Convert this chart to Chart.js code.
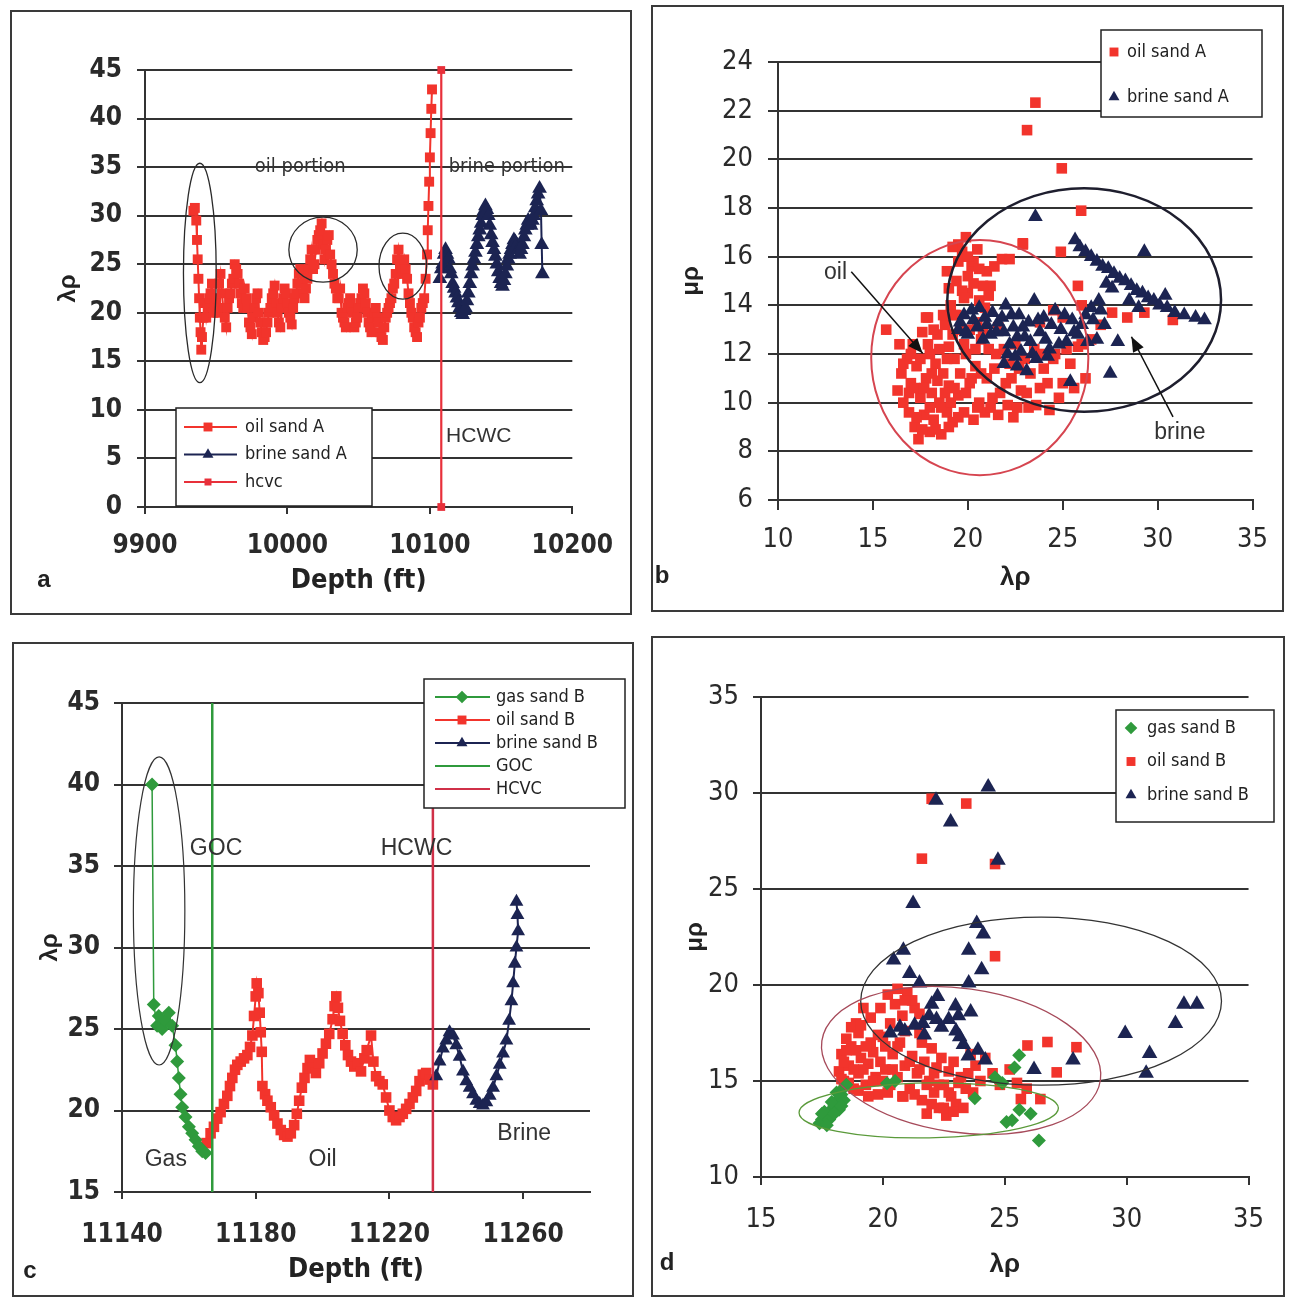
<!DOCTYPE html>
<html>
<head>
<meta charset="utf-8">
<script src="https://cdn.jsdelivr.net/npm/chart.js@4.4.1/dist/chart.umd.min.js"></script>
<style>
  body { margin: 0; background: #fff; width: 1291px; height: 1299px; position: relative; overflow: hidden; }
  .panel { position: absolute; border: 2px solid #3a3a3a; background: #fff; }
  .panel canvas { display: block; }
</style>
</head>
<body>
<div class="panel" style="left:10px;top:10px"><canvas id="ca" width="618" height="601" style="width:618px;height:601px"></canvas></div>
<div class="panel" style="left:651px;top:5px"><canvas id="cb" width="629" height="603" style="width:629px;height:603px"></canvas></div>
<div class="panel" style="left:12px;top:642px"><canvas id="cc" width="618" height="651" style="width:618px;height:651px"></canvas></div>
<div class="panel" style="left:651px;top:636px"><canvas id="cd" width="630" height="657" style="width:630px;height:657px"></canvas></div>
<script>
// ---------------- data ----------------
// panel a : depth (ft) vs lambda-rho, sand A
const oilSandA = [
  [9934,30.5],[9935,30.8],[9936,29.5],[9936.5,27.5],[9937,25.5],[9937.5,23.5],[9938,21.5],[9938.5,19.5],[9939,18],[9939.5,16.2],[9940,17.5],[9941,19.5],
  [9942,21],[9943,19.5],[9944,20.5],[9945,21.5],[9946,22],[9947,23],[9948,20],[9949,21],[9950,21.5],[9951,20],[9952,23],[9953,24],[9954,22],[9955,20.5],
  [9956,19.5],[9957,18.5],[9958,20.5],[9959,21.5],[9960,22],[9961,23],[9962,23.5],[9963,25],[9964,24.5],[9965,24],[9966,23],[9967,22],[9968,21],[9969,20.5],
  [9970,22.5],[9971,21.5],[9972,20.5],[9973,19],[9974,18.5],[9975,17.8],[9976,19.5],[9977,20.5],[9978,21.5],[9979,22],[9980,20],[9981,19],[9982,18],
  [9983,17.2],[9984,17.5],[9985,18],[9986,19],[9987,20],[9988,20.5],[9989,21.5],[9990,22],[9991,22.8],[9992,21],[9993,20],[9994,19],[9995,18.5],[9996,20.5],
  [9997,21.5],[9998,22.5],[9999,22],[10000,21],[10001,20],[10002,19.5],[10003,18.8],[10004,20.5],[10005,21.5],[10006,22],[10007,23],[10008,24],[10009,24.5],
  [10010,23],[10011,22],[10012,21.5],[10013,22.5],[10014,23.5],[10015,24.5],[10016,25.5],[10017,26.5],[10018,24.5],[10019,25],[10020,26.5],[10021,27.5],
  [10022,28],[10023,28.5],[10024,29.2],[10025,27],[10026,25.5],[10027,26.5],[10028,27.5],[10029,28],[10030,26],[10031,25],[10032,24],[10033,23],[10034,22.5],
  [10035,21.5],[10036,21.5],[10037,22.5],[10038,20],[10039,19.5],[10040,19],[10041,18.5],[10042,20.5],[10043,21],[10044,21.5],[10045,20.5],[10046,20],
  [10047,18.5],[10048,19],[10049,19.5],[10050,20.5],[10051,21],[10052,21.5],[10053,22.5],[10054,22],[10055,21],[10056,20],[10057,19],[10058,18.5],[10059,18],
  [10060,19.5],[10061,20],[10062,20.5],[10063,19.5],[10064,19],[10065,18],[10066,17.5],[10067,17.2],[10068,18.5],[10069,19.5],[10070,20],[10071,20.5],
  [10072,21],[10073,21.5],[10074,22.5],[10075,23],[10076,24],[10077,25.5],[10078,26.5],[10079,25],[10080,24],[10081,24.5],[10082,25.5],[10083,24.5],
  [10084,23.5],[10085,22],[10086,21],[10087,20],[10088,19.5],[10089,18.5],[10090,18],[10091,17.5],[10092,19],[10093,19.5],[10094,20.5],[10095,21],
  [10096,21.5],[10097,23.5],[10098,26],[10098.5,28.5],[10099,31],[10099.5,33.5],[10100,36],[10100.5,38.5],[10101,41],[10101.5,43]
];
const brineSandA = [
  [10107,23.5],[10108,24.5],[10109,25],[10110,26],[10111,26.5],[10112,26],[10113,25.5],[10114,24.5],[10115,24],[10116,23],[10117,22.5],[10118,22],
  [10119,21.5],[10120,21],[10121,20.5],[10122,20],[10123,19.8],[10124,20.2],[10125,20.5],[10126,21.2],[10127,22],[10128,23],[10129,24],[10130,24.8],
  [10131,25.5],[10132,26.2],[10133,27],[10134,27.8],[10135,28.5],[10136,29.2],[10137,30],[10138,30.5],[10139,31],[10140,30.6],[10141,30],[10142,29],
  [10143,28],[10144,27.2],[10145,26.5],[10146,25.8],[10147,25],[10148,24.2],[10149,23.5],[10150,23],[10151,22.7],[10152,23.3],[10153,24],[10154,24.8],
  [10155,25.5],[10156,26],[10157,26.5],[10158,27],[10159,27.5],[10160,27.3],[10161,27],[10162,26.5],[10163,26],[10164,26.5],[10165,27],[10166,27.8],
  [10167,28.5],[10168,29],[10169,29.5],[10170,29.3],[10171,29],[10172,29.5],[10173,30],[10174,30.8],[10175,31.5],[10176,32.2],[10177,32.8],[10178,30.5],
  [10178.5,27],[10179,24]
];
const hcvcA = [[10108,0],[10108,45]];
const ticksAX = [9900, 10000, 10100, 10200];
const ticksAY = [0, 5, 10, 15, 20, 25, 30, 35, 40, 45];

// panel b : lambda-rho vs mu-rho, sand A
const oilSandAxplot = [
  [16.3,10.5],[16.5,11.2],[16.6,10.0],[16.8,11.8],[16.9,9.6],[17.0,10.8],[17.1,12.4],[17.2,9.0],[17.3,11.5],[17.4,8.5],[17.5,10.2],[17.6,12.9],[17.7,9.5],
  [17.8,11.0],[17.9,13.5],[18.0,8.8],[18.0,12.0],[18.1,10.4],[18.2,9.3],[18.3,11.6],[18.4,12.8],[18.5,10.0],[18.6,8.7],[18.7,11.2],[18.8,13.2],[18.9,9.6],
  [19.0,12.3],[19.0,10.7],[19.1,14.0],[19.2,9.2],[19.3,11.8],[19.4,15.0],[19.5,10.3],[19.6,13.0],[19.7,16.2],[19.8,9.6],[19.9,12.0],[20.0,14.5],[20.1,10.8],
  [20.2,15.6],[20.3,9.3],[20.4,11.5],[20.5,13.3],[20.6,10.0],[20.7,12.6],[20.9,9.6],[21.0,11.0],[21.2,14.8],[21.3,10.2],[21.5,12.0],[21.6,9.5],[21.8,15.9],
  [22.0,10.8],[22.2,11.6],[22.4,9.4],[22.5,12.4],[22.8,10.5],[23.0,11.8],[23.2,9.8],[23.5,12.2],[23.8,10.6],[24.0,11.4],[24.3,9.7],[24.6,12.0],[25.0,10.8],
  [25.4,11.6],[25.8,12.3],[26.2,11.0],
  [16.6,11.6],[16.9,10.4],[17.0,12.0],[17.2,10.6],[17.3,9.4],[17.5,11.8],[17.6,8.9],[17.7,10.6],[17.9,12.4],[18.0,9.8],[18.1,11.2],[18.2,13.0],[18.3,8.9],
  [18.4,10.9],[18.5,12.2],[18.6,9.8],[18.7,13.6],[18.8,10.4],[18.9,11.8],[19.0,9.0],[19.1,10.0],[19.2,12.8],[19.3,10.6],[19.4,13.6],[19.5,9.4],[19.6,11.2],
  [19.7,14.6],[19.8,12.4],[19.9,10.4],[20.0,15.2],[20.1,13.0],[20.2,11.0],[20.3,15.8],[20.4,12.2],[20.5,9.8],[20.6,14.2],[20.7,11.2],[20.8,13.0],[21.0,15.4],
  [21.1,12.2],[21.2,9.8],[21.4,11.4],[21.6,13.1],[21.7,10.4],[21.9,12.2],[22.1,9.9],[22.3,11.0],[22.6,9.8],[22.7,11.4],[23.1,10.4],[23.3,11.2],[23.6,9.9],
  [23.9,12.0],[24.2,10.8],[24.5,11.8],[24.8,10.2],[25.2,12.2],[25.6,10.6],[26.0,12.4],[19.5,16.5],[19.9,16.8],[20.5,16.3],[21.4,15.6],[20.8,14.8],
  [18.9,15.4],[19.2,16.4],[19.5,15.8],[19.8,14.3],[20.0,16.0],[20.3,14.9],[20.6,15.5],[20.9,13.9],[21.1,14.4],[19.0,14.7],[19.3,13.6],
  [22.2,15.9],[22.9,16.5],[24.9,16.2],[25.8,14.8],[25.0,13.5],[26.0,14.0],[27.6,13.7],[28.4,13.5],[29.3,13.7],[30.8,13.4],[27.0,13.2],[26.5,12.6],[24.5,13.8],
  [23.8,13.3],[23.56,22.33],[23.12,21.2],[24.95,19.63],[25.97,17.89],[22.9,16.55],[15.7,13.0],[16.4,12.4],[17.8,13.5]
];
const brineSandAxplot = [
  [19.5,13.0],[19.8,13.6],[20.0,12.8],[20.3,13.4],[20.6,13.9],[20.8,12.6],[21.0,13.2],[21.3,13.7],[21.5,12.9],[21.8,13.5],[22.0,14.0],[22.2,12.4],[22.4,13.1],
  [22.7,13.6],[23.0,12.7],[23.2,13.3],[23.5,14.2],[23.8,12.9],[24.0,13.5],[24.3,12.2],[24.6,13.8],[24.9,13.0],[25.2,12.5],[25.5,13.4],[25.8,12.8],[26.2,13.6],
  [26.5,13.9],[26.8,12.6],[27.2,13.2],[27.6,14.7],[27.9,12.5],
  [19.6,13.3],[19.9,12.9],[20.2,13.8],[20.5,13.1],[20.9,13.5],[21.2,12.8],[21.6,13.3],[21.9,12.9],[22.3,13.6],[22.6,12.7],[22.9,13.1],[23.3,12.5],[23.7,13.4],
  [24.1,12.6],[24.4,13.2],[24.8,12.4],[25.1,13.6],[25.6,12.9],[26.0,13.2],[26.3,12.5],[22.1,12.0],[22.6,11.5],[23.4,12.0],[24.2,11.9],[26.6,13.4],[27.0,13.8],
  [26.9,14.2],[21.9,11.6],[22.5,11.9],[23.1,11.3],[23.6,11.8],[22.8,12.1],
  [23.56,17.64],[25.4,10.86],[27.5,11.2],[29.3,16.2],
  [25.65,16.68],[25.9,16.4],[26.2,16.2],[26.5,16.0],[26.8,15.8],[27.1,15.6],[27.4,15.5],[27.7,15.3],[28.0,15.1],[28.3,15.0],[28.6,14.8],[28.9,14.6],
  [29.2,14.5],[29.5,14.3],[29.8,14.2],[30.1,14.0],[30.5,13.9],[30.9,13.7],[31.4,13.6],[32.0,13.5],[32.47,13.4],
  [27.3,14.9],[28.5,14.2],[29.0,13.9],[30.4,14.4]
];
const ticksBX = [10, 15, 20, 25, 30, 35];
const ticksBY = [6, 8, 10, 12, 14, 16, 18, 20, 22, 24];

// panel c : depth (ft) vs lambda-rho, sand B
const gasSandB = [
  [11149,40],[11149.5,26.5],[11150.5,25.2],[11151,25.8],[11152,25],[11153,25.5],[11154,26],[11155,25.2],[11156,24],[11156.5,23],[11157,22],[11157.5,21],
  [11158,20.2],[11159,19.6],[11160,19],[11161,18.6],[11162,18.2],[11163,17.8],[11164,17.5],[11165,17.4]
];
const oilSandB = [
  [11165.3,18.0],[11166.5,18.6],[11167.5,19.0],[11168.5,19.5],[11169.5,19.9],[11170.5,20.4],[11171.5,20.9],[11172.3,21.5],[11173,22.0],[11173.8,22.5],
  [11174.5,22.8],[11175.5,23.0],[11176.5,23.2],[11177.5,23.4],[11178.3,23.9],[11179,24.6],[11179.5,25.8],[11180,27.0],[11180.3,27.8],[11180.8,27.2],
  [11181.2,26.0],[11181.5,24.8],[11181.8,23.6],[11182,21.5],[11182.8,21.0],[11183.5,20.6],[11184.5,20.2],[11185.5,19.7],[11186.5,19.2],[11187.5,18.8],
  [11188.5,18.5],[11189.5,18.4],[11190.5,18.6],[11191.5,19.1],[11192.3,19.8],[11193,20.6],[11193.8,21.4],[11194.6,22.0],[11195.5,22.6],[11196.2,23.1],
  [11197,22.6],[11198,22.3],[11199,22.9],[11200,23.5],[11201,24.1],[11202,24.7],[11203,25.6],[11203.6,26.4],[11204.1,27.0],[11204.6,26.3],[11205.2,25.5],
  [11206,24.7],[11206.8,24.0],[11207.6,23.4],[11208.5,23.0],[11209.5,22.7],[11210.5,22.9],[11211.5,22.4],[11212.5,23.2],[11213.2,23.7],[11214.5,24.6],
  [11215.2,23.0],[11216,22.1],[11217,21.8],[11218,21.6],[11219,20.8],[11220,20.0],[11221,19.6],[11222,19.4],[11223,19.6],[11224,19.8],[11225,20.1],
  [11226,20.4],[11227,20.8],[11228,21.2],[11229,21.8],[11230,22.2],[11231,22.3],[11232,21.9],[11233,21.6]
];
const brineSandB = [
  [11234,22.1],[11235,23.0],[11236,23.8],[11237,24.3],[11238,24.8],[11239,24.6],[11240,24.0],[11241,23.3],[11242,22.4],[11243,21.8],[11244,21.4],[11245,21.0],
  [11246,20.6],[11247,20.4],[11248,20.3],[11249,20.5],[11250,20.9],[11251,21.4],[11252,22.1],[11253,22.8],[11254,23.5],[11255,24.3],[11255.8,25.5],
  [11256.5,26.7],[11257,27.8],[11257.5,29.0],[11258,30.0],[11258.5,31.0],[11258.3,32.0],[11258,32.8]
];
const gocB = [[11167,15],[11167,45]];
const hcvcB = [[11233,15],[11233,45]];
const ticksCX = [11140, 11180, 11220, 11260];
const ticksCY = [15, 20, 25, 30, 35, 40, 45];

// panel d : lambda-rho vs mu-rho, sand B
const gasSandBxplot = [
  [17.4,12.8],[17.5,13.0],[17.6,12.9],[17.7,13.2],[17.8,13.4],[17.9,13.3],[18.0,13.7],[18.1,13.9],[18.2,14.1],[18.3,14.3],[18.35,14.6],[18.5,14.8],
  [17.6,13.4],[17.9,13.9],[18.2,13.5],[17.5,13.3],[17.8,13.0],[18.0,13.3],[18.1,14.4],[18.4,14.0],[18.3,13.7],[17.7,12.7],
  [20.17,14.88],[20.5,15.0],[24.6,15.2],[23.77,14.1],[25.59,16.34],[25.07,12.86],[25.6,13.5],[26.06,13.3],[26.4,11.9],[25.4,15.7],[24.9,14.9],[25.3,12.95]
];
const oilSandBxplot = [
  [22.0,29.7],[23.42,29.45],[21.6,26.58],[24.6,26.3],[24.6,21.5],[26.75,17.03],[25.93,16.85],[27.94,16.76],[27.13,15.45],[26.46,14.06],[25.66,14.06],[20.84,14.2],
  [18.2,15.5],[18.3,16.4],[18.4,15.0],[18.5,17.2],[18.6,15.8],[18.7,16.8],[18.8,14.6],[18.9,18.0],[19.0,15.4],[19.0,17.5],[19.1,16.2],[19.2,18.8],[19.3,14.8],
  [19.4,15.9],[19.5,17.0],[19.6,16.5],[19.7,15.2],[19.8,14.3],[19.9,16.0],[20.0,17.3],[20.1,15.6],[20.2,19.5],[20.3,14.8],[20.4,16.4],[20.5,19.0],[20.6,15.2],
  [20.7,17.0],[20.8,18.4],[20.9,15.8],[21.0,19.6],[21.1,14.6],[21.2,16.3],[21.3,18.8],[21.4,15.4],[21.5,17.5],[21.6,14.0],[21.7,16.0],[21.8,13.3],[21.9,15.0],
  [22.0,16.7],[22.1,14.4],[22.2,15.7],[22.3,13.6],[22.4,16.2],[22.5,14.8],[22.6,13.2],[22.7,15.5],[22.8,14.2],[22.9,16.0],[23.0,13.8],[23.2,15.2],[23.4,14.6],
  [23.6,16.4],[23.8,15.8],[24.0,15.0],[24.2,16.2],[24.5,15.4],[24.8,14.8],[25.2,15.6],[25.5,14.9],[25.9,14.6],
  [18.3,15.1],[18.4,16.0],[18.5,16.6],[18.6,14.9],[18.7,17.8],[18.8,15.6],[18.9,16.6],[19.0,14.5],[19.1,17.9],[19.2,15.6],[19.3,16.8],[19.4,14.2],[19.5,18.3],
  [19.6,15.0],[19.8,17.4],[19.9,18.8],[20.0,15.0],[20.1,16.8],[20.2,14.4],[20.3,18.0],[20.4,15.6],[20.6,16.8],[20.8,14.2],[20.9,17.6],[21.1,16.0],[21.2,19.2],
  [21.3,14.3],[21.5,15.6],[21.6,17.0],[21.8,14.8],[22.0,13.8],[22.1,15.4],[22.3,14.8],[22.5,13.6],[22.7,14.4],[22.9,13.4],[23.1,14.9],[23.3,13.6],[23.5,15.4],
  [23.7,14.4],[20.6,19.8],[20.9,19.2],[21.5,18.5]
];
const brineSandBxplot = [
  [24.32,30.31],[22.18,29.62],[22.78,28.49],[24.72,26.5],[21.24,24.24],[23.85,23.2],[24.12,22.66],[23.52,21.81],[20.84,21.81],[20.44,21.3],[24.05,20.8],
  [23.52,20.1],[21.1,20.6],[21.5,20.1],[22.24,19.4],[22.98,18.9],[20.7,17.8],[20.3,17.5],[21.64,18.0],[22.2,18.2],[22.7,18.2],[23.1,18.4],[23.15,17.3],
  [23.5,16.3],[26.2,15.6],[27.8,16.1],[29.94,17.47],[30.94,16.43],[30.8,15.4],[32.0,18.0],[32.35,19.0],[32.88,19.0],[24.2,16.1],
  [20.9,17.6],[21.3,17.9],[21.9,18.4],[22.4,17.8],[23.0,17.6],[23.3,16.9],[21.7,17.4],[22.0,19.0],[23.6,18.6],[23.9,16.6]
];
const ticksDX = [15, 20, 25, 30, 35];
const ticksDY = [10, 15, 20, 25, 30, 35];

// ---------------- styling ----------------
const RED = '#f2342c';
const NAVY = '#1c2452';
const GREEN = '#2f9a3c';
const NARROW = '"Liberation Sans Narrow","Arial Narrow","DejaVu Sans Condensed","Liberation Sans",sans-serif';
const SANS = '"Liberation Sans",Arial,sans-serif';

const pts = arr => arr.map(p => ({ x: p[0], y: p[1] }));

function marker(ctx, style, r, x, y) {
  ctx.beginPath();
  if (style === 'rect') {
    const s = r * Math.SQRT1_2;
    ctx.rect(x - s, y - s, 2 * s, 2 * s);
  } else if (style === 'triangle') {
    for (let k = 0; k < 3; k++) {
      const a = k * 2 * Math.PI / 3;
      const px = x + Math.sin(a) * r, py = y - Math.cos(a) * r;
      k ? ctx.lineTo(px, py) : ctx.moveTo(px, py);
    }
    ctx.closePath();
  } else {
    ctx.moveTo(x - r, y); ctx.lineTo(x, y - r); ctx.lineTo(x + r, y); ctx.lineTo(x, y + r); ctx.closePath();
  }
  ctx.fill();
}

function arrow(ctx, x1, y1, x2, y2) {
  ctx.strokeStyle = '#111'; ctx.fillStyle = '#111'; ctx.lineWidth = 1.5;
  ctx.beginPath(); ctx.moveTo(x1, y1); ctx.lineTo(x2, y2); ctx.stroke();
  const a = Math.atan2(y2 - y1, x2 - x1), L = 15, W = 6;
  ctx.beginPath();
  ctx.moveTo(x2, y2);
  ctx.lineTo(x2 - L * Math.cos(a) + W * Math.sin(a), y2 - L * Math.sin(a) - W * Math.cos(a));
  ctx.lineTo(x2 - L * Math.cos(a) - W * Math.sin(a), y2 - L * Math.sin(a) + W * Math.cos(a));
  ctx.closePath(); ctx.fill();
}

// ellipses, arrows, notes, legend box and panel letter
const deco = {
  id: 'deco',
  afterDatasetsDraw(chart, args, o) {
    const ctx = chart.ctx, xs = chart.scales.x, ys = chart.scales.y;
    ctx.save();
    (o.ellipses || []).forEach(e => {
      const cx = xs.getPixelForValue(e.x), cy = ys.getPixelForValue(e.y);
      const rx = Math.abs(xs.getPixelForValue(e.x + e.rx) - cx);
      const ry = Math.abs(ys.getPixelForValue(e.y + e.ry) - cy);
      ctx.beginPath();
      ctx.ellipse(cx, cy, rx, ry, (e.rot || 0) * Math.PI / 180, 0, 2 * Math.PI);
      ctx.strokeStyle = e.color; ctx.lineWidth = e.width;
      ctx.stroke();
    });
    (o.arrows || []).forEach(a => arrow(ctx,
      xs.getPixelForValue(a[0]), ys.getPixelForValue(a[1]), xs.getPixelForValue(a[2]), ys.getPixelForValue(a[3])));
    (o.notes || []).forEach(t => {
      ctx.font = t.font; ctx.fillStyle = '#333';
      ctx.textAlign = t.align || 'center'; ctx.textBaseline = 'middle';
      ctx.fillText(t.text, xs.getPixelForValue(t.x), ys.getPixelForValue(t.y));
    });
    ctx.restore();
  },
  afterDraw(chart, args, o) {
    const ctx = chart.ctx, L = o.legend;
    ctx.save();
    if (L) {
      ctx.fillStyle = '#fff'; ctx.fillRect(L.x, L.y, L.w, L.h);
      ctx.strokeStyle = '#222'; ctx.lineWidth = 1.5; ctx.strokeRect(L.x, L.y, L.w, L.h);
      ctx.font = L.font; ctx.textBaseline = 'middle'; ctx.textAlign = 'left';
      chart.data.datasets.forEach((ds, i) => {
        const y = L.y + L.first + i * L.step;
        if (L.lines) {
          ctx.strokeStyle = ds.borderColor; ctx.lineWidth = 2;
          ctx.beginPath(); ctx.moveTo(L.x + L.lines[0], y); ctx.lineTo(L.x + L.lines[1], y); ctx.stroke();
        }
        if (ds.pointRadius > 0) {
          ctx.fillStyle = ds.backgroundColor;
          marker(ctx, ds.pointStyle, Math.min(ds.pointRadius, 7) * 0.9, L.x + L.mx, y);
        }
        ctx.fillStyle = '#222';
        ctx.fillText(ds.label, L.x + L.tx, y);
      });
    }
    if (o.letter) {
      ctx.font = 'bold 24px ' + SANS; ctx.fillStyle = '#222';
      ctx.textAlign = 'center'; ctx.textBaseline = 'middle';
      ctx.fillText(o.letter[0], o.letter[1], o.letter[2]);
    }
    ctx.restore();
  }
};

function axis(min, max, ticks, box, side, o) {
  return {
    type: 'linear', min, max,
    afterBuildTicks: s => { s.ticks = ticks.map(v => ({ value: v })); },
    afterFit: s => { if (side === 'x') s.height = box.H - box.B; else s.width = box.L; },
    ticks: { color: '#2a2a2a', font: o.tickFont, padding: o.tickPad, autoSkip: false, maxRotation: 0,
      callback: v => String(v) },
    grid: side === 'x'
      ? { drawOnChartArea: false, drawTicks: true, tickLength: o.tl, color: '#333', tickColor: '#333', lineWidth: 2 }
      : { drawOnChartArea: true, drawTicks: true, tickLength: o.tl, color: '#333', tickColor: '#333', lineWidth: 2 },
    border: { color: '#333', width: 2 },
    title: { display: true, text: o.title, color: '#222', font: o.titleFont,
      padding: side === 'x' ? { top: 0, bottom: o.titlePad } : { top: o.titlePad, bottom: 0 } }
  };
}

function build(id, box, datasets, xs, ys, decoOpts) {
  new Chart(document.getElementById(id), {
    type: 'scatter',
    data: { datasets },
    options: {
      responsive: false, animation: false, events: [],
      layout: { padding: { left: 0, top: box.T, right: box.W - box.R, bottom: 0 } },
      scales: { x: xs, y: ys },
      plugins: { legend: { display: false }, tooltip: { enabled: false }, deco: decoOpts }
    },
    plugins: [deco]
  });
}

function series(label, data, color, style, r, line, order) {
  return {
    label, data: pts(data), order,
    backgroundColor: color, borderColor: color,
    pointStyle: style, pointRadius: r, pointBorderWidth: 0,
    showLine: line > 0, borderWidth: line, clip: false
  };
}

const boldTick = { family: NARROW, size: 26, weight: 'bold' };
const plainTick = { family: NARROW, size: 27 };

// ---- a ----
const boxA = { W: 618, H: 601, L: 133, T: 58, R: 573, B: 495 };
build('ca', boxA, [
  series('oil sand A', oilSandA, RED, 'rect', 7, 2, 2),
  series('brine sand A', brineSandA, NAVY, 'triangle', 8.5, 2, 1),
  series('hcvc', hcvcA, '#e8303a', 'rect', 5.5, 2.2, 0)
],
  axis(9900, 10200, ticksAX, boxA, 'x', { tickFont: boldTick, tickPad: 17, tl: 7, title: 'Depth (ft)',
    titleFont: { family: NARROW, size: 27, weight: 'bold' }, titlePad: 16 }),
  axis(0, 45, ticksAY, boxA, 'y', { tickFont: boldTick, tickPad: 15, tl: 8, title: 'λρ',
    titleFont: { family: SANS, size: 24, weight: 'bold' }, titlePad: 42 }),
  {
    ellipses: [
      { x: 9938.5, y: 24.1, rx: 11.5, ry: 11.3, color: '#2a2a2a', width: 1.3 },
      { x: 10025, y: 26.5, rx: 24, ry: 3.35, color: '#2a2a2a', width: 1.3 },
      { x: 10081, y: 24.8, rx: 16.7, ry: 3.4, color: '#2a2a2a', width: 1.3 }
    ],
    notes: [
      { text: 'oil portion', x: 10009, y: 35, font: '20px ' + NARROW },
      { text: 'brine portion', x: 10154, y: 35, font: '20px ' + NARROW },
      { text: 'HCWC', x: 10111.4, y: 7.3, font: '21px ' + SANS, align: 'left' }
    ],
    legend: { x: 164, y: 396, w: 196, h: 98, first: 19, step: 27.5, lines: [8, 61], mx: 32, tx: 69, font: '18px ' + NARROW },
    letter: ['a', 32, 568]
  });

// ---- b ----
const boxB = { W: 629, H: 603, L: 125, T: 55, R: 602, B: 493 };
build('cb', boxB, [
  series('oil sand A', oilSandAxplot, RED, 'rect', 7.5, 0, 2),
  series('brine sand A', brineSandAxplot, NAVY, 'triangle', 8.5, 0, 1)
],
  axis(10, 35, ticksBX, boxB, 'x', { tickFont: plainTick, tickPad: 14, tl: 10, title: 'λρ',
    titleFont: { family: SANS, size: 26, weight: 'bold' }, titlePad: 17 }),
  axis(6, 24, ticksBY, boxB, 'y', { tickFont: plainTick, tickPad: 15, tl: 10, title: 'μρ',
    titleFont: { family: SANS, size: 24, weight: 'bold' }, titlePad: 24 }),
  {
    ellipses: [
      { x: 20.63, y: 11.85, rx: 5.72, ry: 4.83, color: '#d64550', width: 2 },
      { x: 26.13, y: 14.22, rx: 7.21, ry: 4.59, color: '#1e1e2e', width: 2.5 }
    ],
    arrows: [[13.86, 15.38, 17.62, 12.03], [30.81, 9.42, 28.62, 12.71]],
    notes: [
      { text: 'oil', x: 13.03, y: 15.33, font: '23px ' + SANS },
      { text: 'brine', x: 31.17, y: 8.75, font: '23px ' + SANS }
    ],
    legend: { x: 448, y: 23, w: 161, h: 87, first: 22, step: 45, mx: 13, tx: 26, font: '18px ' + NARROW },
    letter: ['b', 9, 569]
  });

// ---- c ----
const boxC = { W: 618, H: 651, L: 108, T: 59, R: 576, B: 548 };
build('cc', boxC, [
  series('gas sand B', gasSandB, GREEN, 'rectRot', 7, 1.5, 3),
  series('oil sand B', oilSandB, RED, 'rect', 7.5, 2, 4),
  series('brine sand B', brineSandB, NAVY, 'triangle', 8, 2, 2),
  series('GOC', gocB, GREEN, 'rect', 0, 2.5, 1),
  series('HCVC', hcvcB, '#d03048', 'rect', 0, 2.5, 0)
],
  axis(11140, 11280, ticksCX, boxC, 'x', { tickFont: boldTick, tickPad: 21, tl: 7, title: 'Depth (ft)',
    titleFont: { family: NARROW, size: 27, weight: 'bold' }, titlePad: 9 }),
  axis(15, 45, ticksCY, boxC, 'y', { tickFont: boldTick, tickPad: 14, tl: 8, title: 'λρ',
    titleFont: { family: SANS, size: 24, weight: 'bold' }, titlePad: 22 }),
  {
    ellipses: [{ x: 11151.1, y: 32.24, rx: 7.7, ry: 9.45, color: '#333', width: 1.2 }],
    notes: [
      { text: 'GOC', x: 11160.3, y: 36.04, font: '23px ' + SANS, align: 'left' },
      { text: 'HCWC', x: 11228.1, y: 36.04, font: '23px ' + SANS },
      { text: 'Gas', x: 11153.1, y: 17.0, font: '23px ' + SANS },
      { text: 'Oil', x: 11200, y: 17.0, font: '23px ' + SANS },
      { text: 'Brine', x: 11260.3, y: 18.56, font: '23px ' + SANS }
    ],
    legend: { x: 410, y: 35, w: 201, h: 129, first: 18, step: 23, lines: [11, 66], mx: 38, tx: 72, font: '18px ' + NARROW },
    letter: ['c', 16, 627]
  });

// ---- d ----
const boxD = { W: 630, H: 657, L: 108, T: 59, R: 606, B: 539 };
build('cd', boxD, [
  series('gas sand B', gasSandBxplot, GREEN, 'rectRot', 7, 0, 1),
  series('oil sand B', oilSandBxplot, RED, 'rect', 7.5, 0, 2),
  series('brine sand B', brineSandBxplot, NAVY, 'triangle', 9, 0, 0)
],
  axis(15, 35, ticksDX, boxD, 'x', { tickFont: plainTick, tickPad: 19, tl: 8, title: 'λρ',
    titleFont: { family: SANS, size: 26, weight: 'bold' }, titlePad: 15 }),
  axis(10, 35, ticksDY, boxD, 'y', { tickFont: plainTick, tickPad: 14, tl: 8, title: 'μρ',
    titleFont: { family: SANS, size: 24, weight: 'bold' }, titlePad: 28 }),
  {
    ellipses: [
      { x: 26.49, y: 19.16, rx: 7.4, ry: 4.38, color: '#333', width: 1.3 },
      { x: 23.21, y: 16.07, rx: 5.77, ry: 3.75, rot: 8, color: '#a64a5a', width: 1.3 },
      { x: 21.88, y: 13.47, rx: 5.32, ry: 1.43, rot: -1, color: '#5a9a3a', width: 1.3 }
    ],
    legend: { x: 463, y: 72, w: 158, h: 112, first: 18, step: 33.5, mx: 15, tx: 31, font: '18px ' + NARROW },
    letter: ['d', 14, 625]
  });
</script>
</body>
</html>
